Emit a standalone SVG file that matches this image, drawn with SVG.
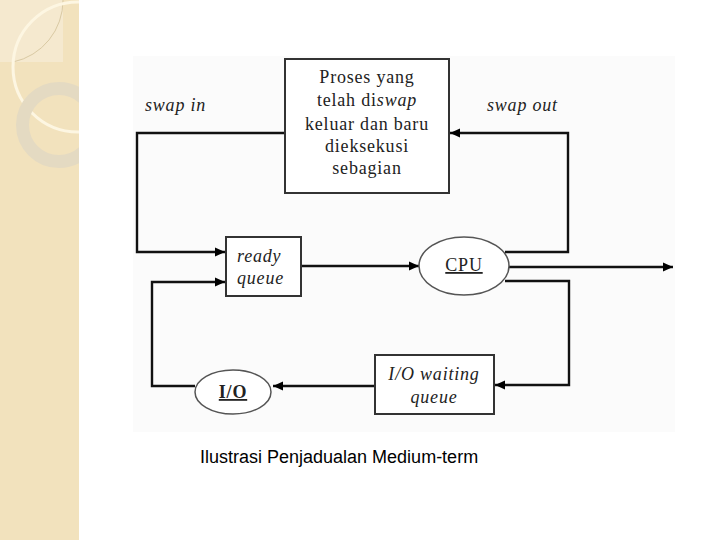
<svg xmlns="http://www.w3.org/2000/svg" width="720" height="540" viewBox="0 0 720 540">
<defs>
<marker id="ah" viewBox="0 0 10 10" refX="10" refY="5" markerWidth="10" markerHeight="10" markerUnits="userSpaceOnUse" orient="auto">
<path d="M0,0.5 L10,5 L0,9.5 Z" fill="#000"/>
</marker>
<clipPath id="sb"><rect x="0" y="0" width="79" height="540"/></clipPath>
<style>
.ln{fill:none;stroke:#111;stroke-width:2.4}
.bx{fill:#fff;stroke:#333;stroke-width:2}
.el{fill:#fff;stroke:#555;stroke-width:1.5}
.t{font-family:"Liberation Serif",serif;font-size:18px;fill:#222;letter-spacing:0.8px}
.it{font-style:italic}
.u{text-decoration:underline}
.b{font-weight:bold}
.cap{font-family:"Liberation Sans",Arial,sans-serif;font-size:18px;fill:#000}
</style>
</defs>
<rect width="720" height="540" fill="#fff"/>
<g id="sidebar" clip-path="url(#sb)">
<rect x="0" y="0" width="79" height="540" fill="#f2e2bd"/>
<rect x="0" y="0" width="63" height="62" fill="#f5e9cf"/>
<path d="M63,0 A63,63 0 0 1 13,62" fill="none" stroke="#d9c9a3" stroke-width="1"/>
<circle cx="78" cy="67" r="65" fill="none" stroke="#fdf6e2" stroke-width="3"/>
<circle cx="59" cy="125" r="36.5" fill="none" stroke="#e4dac2" stroke-width="13"/>
</g>
<rect x="133" y="56" width="542" height="376" fill="#fbfbfb"/>
<g id="connectors">
<polyline class="ln" points="285,133 137,133 137,252 225,252" marker-end="url(#ah)"/>
<polyline class="ln" points="505,252 568,252 568,133 450,133" marker-end="url(#ah)"/>
<line class="ln" x1="301" y1="266" x2="419" y2="266" marker-end="url(#ah)"/>
<line class="ln" x1="509" y1="267" x2="673" y2="267" marker-end="url(#ah)"/>
<polyline class="ln" points="505,281 569,281 569,385 495,385" marker-end="url(#ah)"/>
<line class="ln" x1="375" y1="386" x2="273" y2="386" marker-end="url(#ah)"/>
<polyline class="ln" points="195,386 152,386 152,282 225,282" marker-end="url(#ah)"/>
</g>
<g id="swapped">
<rect class="bx" x="285" y="59" width="164" height="134"/>
<text class="t" text-anchor="middle" x="367" y="83">Proses yang</text>
<text class="t" text-anchor="middle" x="367" y="106">telah di<tspan class="it">swap</tspan></text>
<text class="t" text-anchor="middle" x="367" y="130">keluar dan baru</text>
<text class="t" text-anchor="middle" x="367" y="152">dieksekusi</text>
<text class="t" text-anchor="middle" x="367" y="174">sebagian</text>
</g>
<g id="swapin-label"><text class="t it" x="145" y="111">swap in</text></g>
<g id="swapout-label"><text class="t it" x="487" y="111">swap out</text></g>
<g id="ready">
<rect class="bx" x="226" y="237" width="75" height="59"/>
<text class="t it" x="237" y="262">ready</text>
<text class="t it" x="237" y="284">queue</text>
</g>
<g id="cpu">
<ellipse class="el" cx="464" cy="266" rx="45" ry="29"/>
<text class="t u" text-anchor="middle" x="464" y="271">CPU</text>
</g>
<g id="iowait">
<rect class="bx" x="375" y="355" width="119" height="59"/>
<text class="t it" text-anchor="middle" x="434" y="380">I/O waiting</text>
<text class="t it" text-anchor="middle" x="434" y="403">queue</text>
</g>
<g id="io">
<ellipse class="el" cx="233" cy="392" rx="38" ry="22"/>
<text class="t b u" text-anchor="middle" x="233" y="398">I/O</text>
</g>
<text class="cap" x="200" y="463">Ilustrasi Penjadualan Medium-term</text>
</svg>
